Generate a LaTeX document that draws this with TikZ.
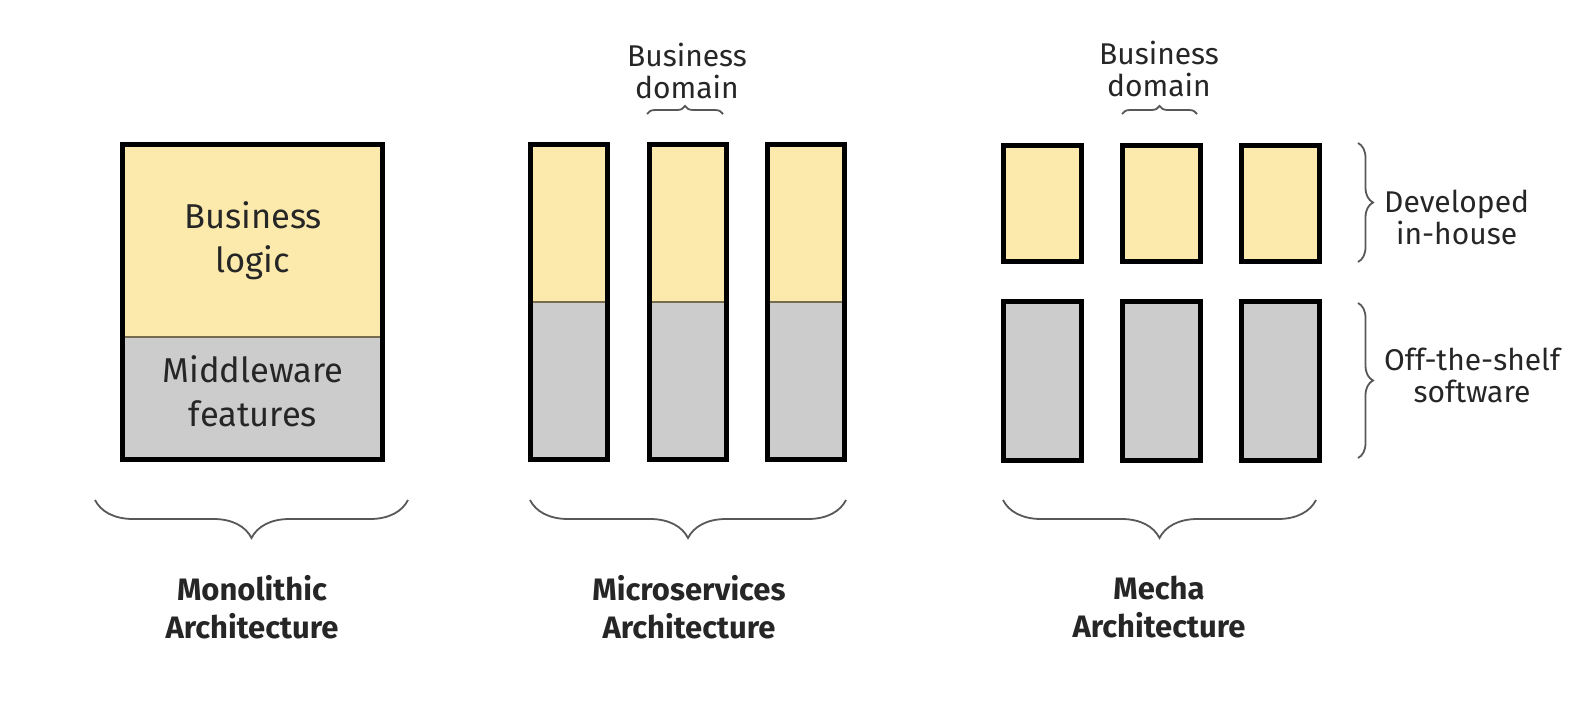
\documentclass[tikz,border=0pt]{standalone}
\usepackage{fontspec}
\setmainfont{Fira Sans}
\usetikzlibrary{decorations.pathreplacing}

\definecolor{bizyellow}{RGB}{252,234,172}
\definecolor{mwgray}{RGB}{204,204,204}
\definecolor{ink}{RGB}{38,38,38}
\definecolor{bracegray}{RGB}{88,88,88}
\definecolor{seam}{RGB}{120,108,78}

\begin{document}
\begin{tikzpicture}[x=1pt,y=-1pt,
  frame/.style={draw=black,line width=5pt,inner sep=0pt,outer sep=0pt},
  devbox/.style={frame,fill=bizyellow},
  shelfbox/.style={frame,fill=mwgray},
  splitbox/.style={inner sep=0pt,outer sep=0pt,fill=mwgray},
  inside/.style={font=\fontsize{34.5}{44}\selectfont,text=ink,align=center,inner sep=0pt},
  note/.style={font=\fontsize{30}{32}\selectfont,text=ink,align=center,inner sep=0pt},
  title/.style={font=\bfseries\fontsize{31}{38}\selectfont,text=ink,align=center,inner sep=0pt},
  curly/.style={draw=bracegray,line width=1.8pt,decorate,
    decoration={brace,amplitude=#1,aspect=0.5}},
  seamline/.style={draw=seam,line width=1.5pt}]
\useasboundingbox (0,0) rectangle (1590,720);

% ---------- Monolithic ----------
\node[splitbox,minimum width=260pt,minimum height=315pt] (mono) at (252.5,302) {};
\fill[bizyellow] (mono.north west) rectangle (mono.east |- 0,337);
\draw[seamline] (mono.west |- 0,337) -- (mono.east |- 0,337);
\draw[frame] (mono.north west) rectangle (mono.south east);
\node[inside] (logic) at (253,241) {Business\\logic};
\node[inside] (mware) at (253,391) {Middleware\\features};

% ---------- Microservices ----------
\foreach \i/\cx in {1/569,2/687.5,3/806}{
  \node[splitbox,minimum width=77pt,minimum height=315pt] (ms\i) at (\cx,302) {};
  \fill[bizyellow] (ms\i.north west) rectangle (ms\i.east |- 0,302);
  \draw[seamline] (ms\i.west |- 0,302) -- (ms\i.east |- 0,302);
  \draw[frame] (ms\i.north west) rectangle (ms\i.south east);
}
\node[note] (msdom) at (687,71) {Business\\domain};
\coordinate (msdomL) at (647,114);
\coordinate (msdomR) at (723,114);
\draw[curly=8pt] (msdomL) -- (msdomR);

% ---------- Mecha ----------
\foreach \i/\cx in {1/1042.5,2/1161,3/1280}{
  \node[devbox,minimum width=78pt,minimum height=116pt] (md\i) at (\cx,203.5) {};
  \node[shelfbox,minimum width=78pt,minimum height=159pt] (mo\i) at (\cx,381) {};
}
\node[note] (medom) at (1159,69) {Business\\domain};
\coordinate (medomL) at (1122,114);
\coordinate (medomR) at (1197,114);
\draw[curly=8pt] (medomL) -- (medomR);

% right-hand braces and their labels
\coordinate (devT) at (1358,143);
\coordinate (devB) at (1358,262);
\coordinate (offT) at (1358,303);
\coordinate (offB) at (1358,458);
\draw[curly=15pt] (devT) -- (devB);
\draw[curly=15pt] (offT) -- (offB);
\node[note,anchor=west] (devlbl) at (1384,217.5) {Developed\\in-house};
\node[note,anchor=west] (offlbl) at (1384,375) {Off-the-shelf\\software};

% ---------- bottom braces and titles ----------
\coordinate (b1L) at (95,500);  \coordinate (b1R) at (408,500);
\coordinate (b2L) at (530,500); \coordinate (b2R) at (846,500);
\coordinate (b3L) at (1003,500);\coordinate (b3R) at (1316,500);
\draw[curly=38pt] (b1R) -- (b1L);
\draw[curly=38pt] (b2R) -- (b2L);
\draw[curly=38pt] (b3R) -- (b3L);
\node[title] (t1) at (252,607) {Monolithic\\Architecture};
\node[title] (t2) at (689,607) {Microservices\\Architecture};
\node[title] (t3) at (1159,607) {Mecha\\Architecture};
\end{tikzpicture}
\end{document}
